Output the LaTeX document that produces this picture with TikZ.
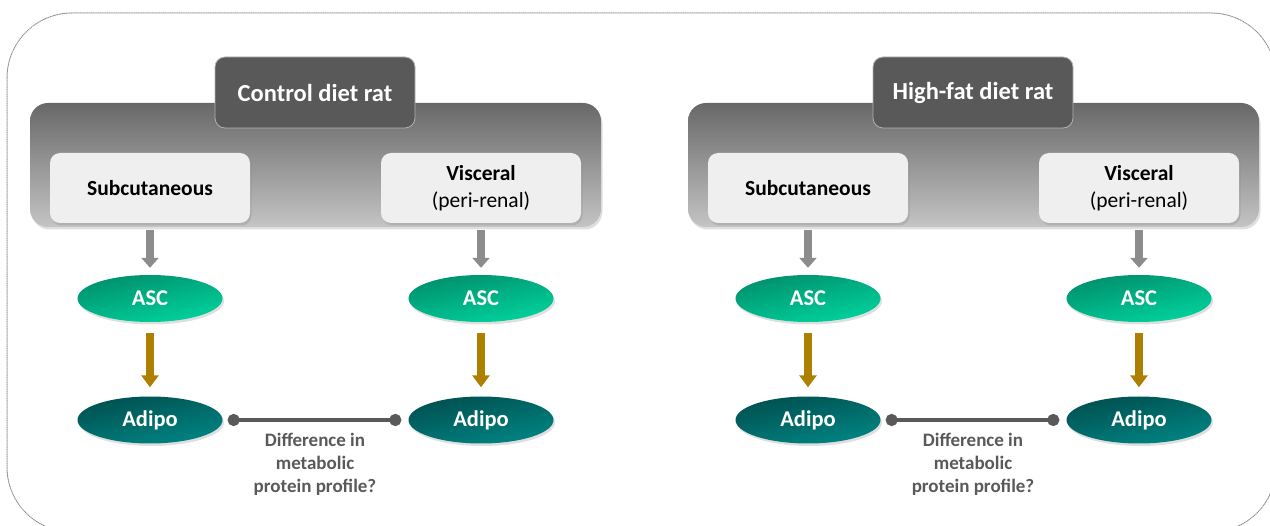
\documentclass[tikz,border=0pt]{standalone}
\usepackage{fontspec}
\setmainfont{Carlito}
\usepackage{tikz}
\usetikzlibrary{arrows.meta,shapes.geometric,shadows}
\definecolor{BandTop}{HTML}{686868}
\definecolor{BandBot}{HTML}{C4C4C4}
\definecolor{TitleFill}{HTML}{595959}
\definecolor{BoxFill}{HTML}{EFEFEF}
\definecolor{AscDark}{HTML}{008F6C}
\definecolor{AscLight}{HTML}{00D49E}
\definecolor{AdiDark}{HTML}{00504F}
\definecolor{AdiLight}{HTML}{008584}
\definecolor{GoldArrow}{HTML}{AD8000}
\newcommand{\FrameColor}{gray!85}
\newcommand{\TextGray}{TitleFill}

\begin{document}
\begin{tikzpicture}[x=1pt,y=-1pt,line cap=round,line join=round,
  softshadow/.style={drop shadow={opacity=0.25,shadow xshift=1.5pt,shadow yshift=-2.5pt}},
  band/.style={rectangle,rounded corners=18pt,minimum width=571pt,minimum height=124pt,
    top color=BandTop,bottom color=BandBot,softshadow},
  titlebox/.style={rectangle,rounded corners=10pt,minimum width=200pt,minimum height=71pt,
    fill=TitleFill,draw=gray!60,line width=0.8pt,text=white,
    font=\fontsize{24.5}{28}\selectfont\bfseries},
  tissue/.style={rectangle,rounded corners=10pt,minimum width=200pt,minimum height=70pt,
    fill=BoxFill,align=center,softshadow,font=\fontsize{21.5}{27}\selectfont},
  cell/.style={ellipse,inner sep=0pt,minimum width=145pt,minimum height=47pt,
    text=white,font=\fontsize{22.5}{26}\selectfont\bfseries,softshadow},
  asc/.style={cell,top color=AscDark,bottom color=AscLight,shading angle=12},
  adipo/.style={cell,top color=AdiDark,bottom color=AdiLight,shading angle=12},
  grayarrow/.style={draw=gray!90,line width=8pt,line cap=butt,
    -{Triangle[width=17pt,length=10pt]},shorten <=7pt,shorten >=7pt},
  goldarrow/.style={draw=GoldArrow,line width=8pt,line cap=butt,
    -{Triangle[width=17pt,length=12pt]},shorten <=11pt,shorten >=9pt},
  diffline/.style={draw=\TextGray,line width=4pt,
    {Circle[length=12pt]}-{Circle[length=12pt]},shorten <=5pt,shorten >=7pt},
  difftext/.style={align=center,text=\TextGray,font=\fontsize{19}{23}\selectfont\bfseries}]
  \useasboundingbox (0,0) rectangle (1270,526);
  \begin{scope}
    \clip (0,0) rectangle (1270,526);
    \draw[\FrameColor,line width=1pt,dash pattern=on 0.8pt off 1pt,rounded corners=65pt]
      (7,13) rectangle (1276,532);
  \end{scope}
  \foreach \i/\dx/\paneltitle in {1/0/Control diet rat,2/658/High-fat diet rat}{
    \begin{scope}[xshift=\dx]
      \node[band] (band\i) at (315.5,165) {};
      \node[titlebox] (title\i) at (315,92.5) {\paneltitle};
      \node[tissue] (sub\i) at (150,188) {\textbf{Subcutaneous}};
      \node[tissue] (vis\i) at (481,188) {\textbf{Visceral}\\(peri-renal)};
      \node[asc] (ascs\i) at (150,298.5) {ASC};
      \node[asc] (ascv\i) at (481,298.5) {ASC};
      \node[adipo] (adis\i) at (150,420) {Adipo};
      \node[adipo] (adiv\i) at (481,420) {Adipo};
      \node[difftext] (diff\i) at (315,464.5) {Difference in\\metabolic\\protein profile?};
      \draw[grayarrow] (sub\i) -- (ascs\i);
      \draw[grayarrow] (vis\i) -- (ascv\i);
      \draw[goldarrow] (ascs\i) -- (adis\i);
      \draw[goldarrow] (ascv\i) -- (adiv\i);
      \draw[diffline] (adis\i) -- (adiv\i);
    \end{scope}
  }
\end{tikzpicture}
\end{document}
